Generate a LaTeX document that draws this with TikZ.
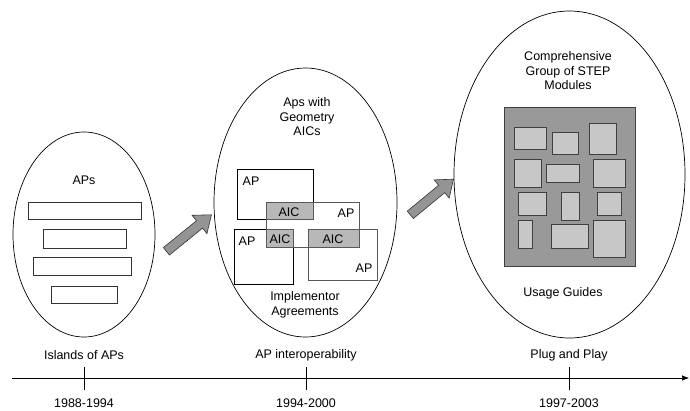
\documentclass[tikz,border=0pt]{standalone}
\usepackage{fontspec}
\setmainfont{Liberation Sans}
\usetikzlibrary{shapes.geometric,shapes.arrows,arrows.meta}
\definecolor{arrowgray}{gray}{0.58}
\definecolor{boardgray}{gray}{0.60}
\definecolor{tilegray}{gray}{0.78}
\definecolor{aicgray}{gray}{0.72}
\definecolor{edgegray}{gray}{0.35}
\tikzset{
  stage/.style={draw, ellipse, inner sep=0pt, line width=0.7pt},
  lbl/.style={font=\fontsize{12.5}{14.5}\selectfont, inner sep=0pt, align=center},
  apbox/.style={draw=black, line width=0.7pt},
  apfaint/.style={draw=edgegray, line width=0.6pt},
  aicbox/.style={fill=aicgray, draw=edgegray, line width=0.7pt},
  tile/.style={fill=tilegray, draw=black!75, line width=0.7pt},
  jump/.style={single arrow, draw=black!80, fill=arrowgray, line width=0.6pt,
    inner xsep=0pt, inner ysep=4.5pt, single arrow head extend=7pt,
    single arrow tip angle=75}
}
\begin{document}
\begin{tikzpicture}[x=1pt,y=-1pt]
\useasboundingbox (0,0) rectangle (690,410);
% three stages
\node[stage, minimum width=142pt, minimum height=205pt] (islands) at (84,234.5) {};
\node[stage, minimum width=183pt, minimum height=269pt] (interop) at (305.5,202.5) {};
\node[stage, minimum width=231pt, minimum height=327pt] (plugplay) at (569.5,174.5) {};
% islands of APs
\node[lbl] (apstitle) at (84,180) {APs};
\foreach \xa/\ya/\xb/\yb in {28/202/141/219, 43/229/126/248, 33/257/131/275, 51/286/117/303}
  \draw[draw=black!80, line width=0.7pt] (\xa,\ya) rectangle (\xb,\yb);
% AP interoperability
\node[lbl] (geomtitle) at (307,117) {Aps with\\Geometry\\AICs};
\draw[apfaint] (266,202) rectangle (359,247);
\draw[apfaint] (308,229) rectangle (377,280);
\draw[apbox] (237,169) rectangle (313,219);
\draw[apbox] (234,229) rectangle (293,284);
\draw[aicbox] (266,202) rectangle (313,219);
\draw[aicbox] (266,229) rectangle (293,247);
\draw[aicbox] (308,229) rectangle (359,247);
\node[lbl] (apa) at (251,181) {AP};
\node[lbl] (apb) at (346,213) {AP};
\node[lbl] (apc) at (247,241) {AP};
\node[lbl] (apd) at (364,268) {AP};
\node[lbl] (aica) at (289,212) {AIC};
\node[lbl] (aicb) at (280,239) {AIC};
\node[lbl] (aicc) at (333,239) {AIC};
\node[lbl] (agree) at (305,305) {Implementor\\Agreements};
% plug and play
\node[lbl] (modtitle) at (568,71) {Comprehensive\\Group of STEP\\Modules};
\draw[fill=boardgray, draw=black!75, line width=0.7pt] (504,107) rectangle (635,266);
\foreach \xa/\ya/\xb/\yb in {514/127/546/149, 552/132/578/154, 589/123/616/154,
    514/159/541/187, 546/164/579/182, 593/159/625/187,
    518/192/546/215, 561/192/579/220, 597/192/621/215,
    518/220/532/248, 551/224/588/248, 593/220/625/257}
  \draw[tile] (\xa,\ya) rectangle (\xb,\yb);
\node[lbl] (guides) at (563,293) {Usage Guides};
% moves between stages
\node[jump, rotate=39, minimum height=58pt] (jumpa) at (186.5,235) {};
\node[jump, rotate=39.5, minimum height=56pt] (jumpb) at (429.5,199) {};
% timeline
\coordinate (tstart) at (12,378);
\coordinate (tend) at (689,378);
\draw[line width=0.6pt, -{Latex[length=7pt,width=5.5pt]}] (tstart) -- (tend);
\foreach \x/\era/\yrs/\nm in {84/Islands of APs/1988-1994/a, 306/AP interoperability/1994-2000/b, 569/Plug and Play/1997-2003/c} {
  \draw[line width=0.6pt] (\x,367) -- (\x,390);
  \node[lbl] (era\nm) at (\x,355) {\era};
  \node[lbl] (yrs\nm) at (\x,403) {\yrs};
}
\end{tikzpicture}
\end{document}
